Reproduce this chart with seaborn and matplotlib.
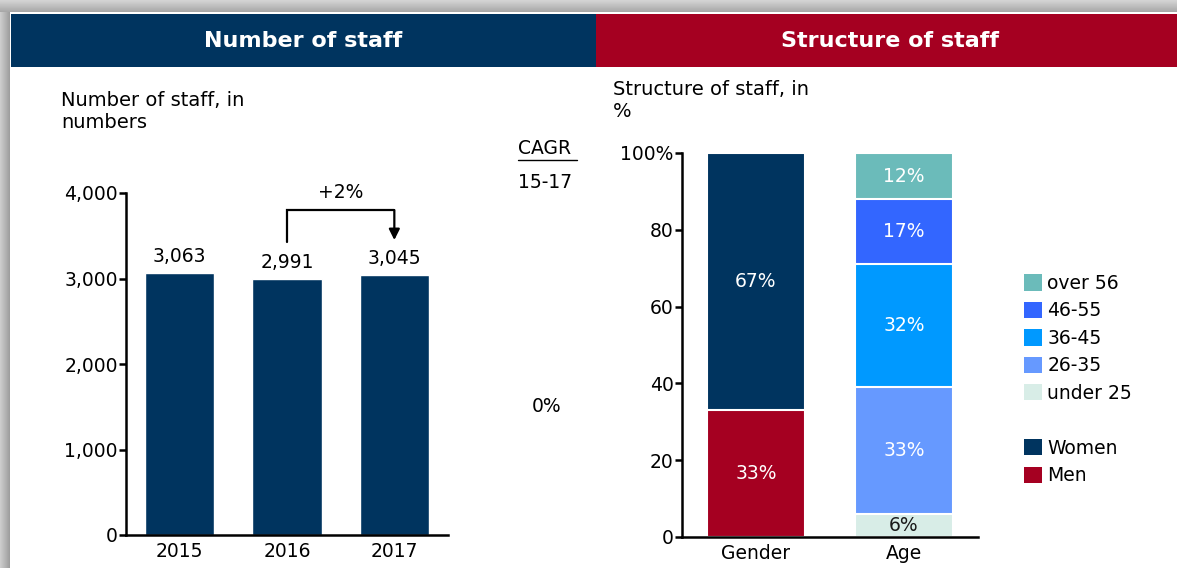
import numpy as np
import matplotlib
matplotlib.use("Agg")
import matplotlib.pyplot as plt
from matplotlib.patches import Rectangle, Patch
from matplotlib.lines import Line2D
import seaborn as sns

# ---- data ----
years = ["2015", "2016", "2017"]
staff = [3063, 2991, 3045]

structure_cats = ["Gender", "Age"]
gender_labels = ["Men", "Women"]
gender_values = [33, 67]
age_labels = ["under 25", "26-35", "36-45", "46-55", "over 56"]
age_values = [6, 33, 32, 17, 12]

# ---- colours ----
NAVY = "#00345f"
CRIMSON = "#a50021"
gender_colors = {"Men": CRIMSON, "Women": NAVY}
age_colors = {"under 25": "#d8ede7", "26-35": "#6699ff", "36-45": "#0099ff",
              "46-55": "#3366ff", "over 56": "#6bbbba"}
age_text = {"under 25": "#1a1a1a"}

sns.set_theme(style="white")
plt.rcParams["font.family"] = ["DejaVu Sans"]
plt.rcParams.update({"axes.edgecolor": "black", "text.color": "black",
                     "axes.labelcolor": "black", "xtick.color": "black",
                     "ytick.color": "black"})

W, H = 1177, 568
fig = plt.figure(figsize=(W / 100, H / 100), dpi=100)
fig.patch.set_facecolor("white")

def fx(px):
    return px / W

def fy(py):
    return 1 - py / H

# ---- frame shading (top and left) ----
top = fig.add_axes([0, fy(12), 1, 12 / H])
top.imshow(np.linspace(0.83, 0.66, 12)[:, None], cmap="gray", vmin=0, vmax=1,
           aspect="auto", extent=[0, 1, 0, 1])
top.axis("off")
left = fig.add_axes([0, 0, fx(10), fy(12)])
left.imshow(np.linspace(0.80, 0.62, 10)[None, :], cmap="gray", vmin=0, vmax=1,
            aspect="auto", extent=[0, 1, 0, 1])
left.axis("off")

# ---- header bars ----
fig.add_artist(Rectangle((fx(11), fy(67)), fx(596 - 11), 53 / H,
                         transform=fig.transFigure, color=NAVY, lw=0))
fig.add_artist(Rectangle((fx(596), fy(67)), 1 - fx(596), 53 / H,
                         transform=fig.transFigure, color=CRIMSON, lw=0))
fig.text(fx(303), fy(41), "Number of staff", color="white", fontsize=16,
         fontweight="bold", ha="center", va="center")
fig.text(fx(890), fy(41), "Structure of staff", color="white", fontsize=16,
         fontweight="bold", ha="center", va="center")

# ---- subtitles ----
fig.text(fx(61), fy(91), "Number of staff, in\nnumbers", fontsize=14,
         ha="left", va="top", linespacing=1.2)
fig.text(fx(613), fy(80), "Structure of staff, in\n%", fontsize=14,
         ha="left", va="top", linespacing=1.2)

tick_fs = 13.5

# ---- CAGR column ----
growth = staff[-1] / staff[0]
cagr = growth ** (1 / (len(staff) - 1)) - 1
fig.text(fx(518), fy(149), "CAGR", fontsize=tick_fs, ha="left", va="center")
fig.add_artist(Line2D([fx(518), fx(577)], [fy(160), fy(160)],
                      transform=fig.transFigure, color="black", lw=1))
fig.text(fx(518), fy(183), f"{years[0][2:]}-{years[-1][2:]}", fontsize=tick_fs,
         ha="left", va="center")
fig.text(fx(547), fy(407), f"{abs(cagr):.0%}", fontsize=tick_fs, ha="center",
         va="center")


def style_axes(ax):
    for s in ["top", "right"]:
        ax.spines[s].set_visible(False)
    for s in ["left", "bottom"]:
        ax.spines[s].set_linewidth(1.8)
        ax.spines[s].set_color("black")
    ax.tick_params(axis="y", length=5, width=1.8, direction="out",
                   labelsize=tick_fs, pad=1, left=True, colors="black")
    ax.tick_params(axis="x", length=0, labelsize=tick_fs, pad=5)
    ax.set_xlabel("")
    ax.set_ylabel("")

# ---- left: headcount ----
ax1 = fig.add_axes([fx(126), fy(535), fx(448 - 126), (535 - 193) / H])
sns.barplot(x=years, y=staff, color=NAVY, saturation=1, width=0.645,
            errorbar=None, ax=ax1)
ax1.set_ylim(0, 4000)
ax1.set_xlim(-0.5, 2.5)
ax1.set_yticks([0, 1000, 2000, 3000, 4000])
ax1.set_yticklabels([f"{t:,}" for t in [0, 1000, 2000, 3000, 4000]])
style_axes(ax1)
ax1.bar_label(ax1.containers[0], labels=[f"{v:,}" for v in staff],
              padding=5, fontsize=tick_fs)

# growth bracket 2016 -> 2017
yoy = staff[2] / staff[1] - 1
ax1.plot([1, 1, 2], [3427, 3800, 3800], color="black", lw=1.6,
         solid_joinstyle="miter", clip_on=False)
ax1.annotate("", xy=(2, 3450), xytext=(2, 3800),
             arrowprops=dict(arrowstyle="-|>", color="black", lw=1.6,
                             mutation_scale=16, shrinkA=0, shrinkB=0))
ax1.text(1.5, 4000, f"{yoy:+.0%}", fontsize=tick_fs, ha="center",
         va="center")

# ---- right: structure (stacked) ----
ax2 = fig.add_axes([fx(682), fy(537), fx(978 - 682), 384 / H])

def stacked(cat, labels, values, colors):
    tops = np.cumsum(values)
    bottoms = tops - np.asarray(values)
    # draw tallest first so each lower segment sits on top of it
    for lab, t in reversed(list(zip(labels, tops))):
        sns.barplot(x=[cat], y=[t], order=structure_cats, color=colors[lab],
                    saturation=1, width=0.66, edgecolor="white",
                    linewidth=1.5, errorbar=None, ax=ax2)
    xpos = structure_cats.index(cat)
    for lab, b, v in zip(labels, bottoms, values):
        ax2.text(xpos, b + v / 2, f"{v}%", ha="center", va="center",
                 fontsize=tick_fs, color=age_text.get(lab, "white"))

stacked("Gender", gender_labels, gender_values, gender_colors)
stacked("Age", age_labels, age_values, age_colors)
ax2.set_ylim(0, 100)
ax2.set_xlim(-0.5, 1.5)
ax2.set_yticks([0, 20, 40, 60, 80, 100])
ax2.set_yticklabels(["0", "20", "40", "60", "80", "100%"])
style_axes(ax2)

# legend: age bands, spacer, gender
handles = [Patch(facecolor=age_colors[l], edgecolor="none", label=l)
           for l in reversed(age_labels)]
handles.append(Patch(facecolor="none", edgecolor="none", label=""))
handles += [Patch(facecolor=gender_colors[l], edgecolor="none", label=l)
            for l in reversed(gender_labels)]
fig.legend(handles=handles, loc="upper left",
           bbox_to_anchor=(fx(1024), fy(274)), frameon=False,
           fontsize=tick_fs, handlelength=0.95, handleheight=0.95,
           handletextpad=0.3, labelspacing=0.45, borderpad=0,
           borderaxespad=0)

fig.savefig("out.png", dpi=100)
